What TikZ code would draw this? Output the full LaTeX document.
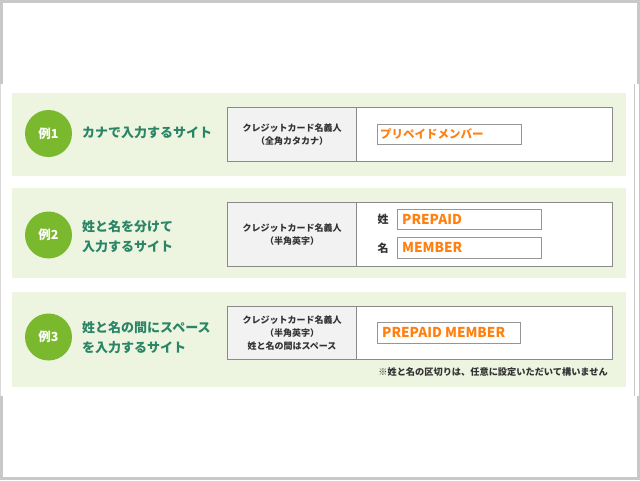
\documentclass[tikz,border=0pt]{standalone}
\usepackage{fontspec}
\setmainfont{Noto Sans CJK JP}
\definecolor{framegray}{HTML}{C8C8C8}
\definecolor{panelgreen}{HTML}{EDF5E1}
\definecolor{circlegreen}{HTML}{7AB82E}
\definecolor{titlegreen}{HTML}{2A8466}
\definecolor{boxborder}{HTML}{8A8A8A}
\definecolor{labelfill}{HTML}{F2F2F2}
\definecolor{valorange}{HTML}{FF7F0F}
\definecolor{txtdark}{HTML}{333333}
\tikzset{
  panel/.style={fill=panelgreen, draw=none, anchor=north west, inner sep=0pt},
  badge/.style={circle, fill=circlegreen, minimum size=47pt, inner sep=0pt,
    text=white, font=\bfseries\fontsize{12.5}{12.5}\selectfont},
  title/.style={anchor=west, text=titlegreen, align=left, inner sep=0pt,
    font=\bfseries\fontsize{13}{20}\selectfont},
  lbox/.style={draw=boxborder, line width=1pt, fill=labelfill, anchor=north west,
    inner sep=0pt, align=center, text=txtdark,
    font=\bfseries\fontsize{9}{13.3}\selectfont},
  vbox/.style={draw=boxborder, line width=1pt, fill=white, anchor=north west, inner sep=0pt},
  ibox/.style={draw=boxborder!90, line width=1.2pt, fill=white, anchor=north west,
    inner sep=0pt},
  ival/.style={anchor=west, inner sep=0pt, text=valorange,
    font=\bfseries\fontsize{13.6}{13.6}\selectfont},
  jlab/.style={anchor=center, inner sep=0pt, text=txtdark,
    font=\bfseries\fontsize{11}{11}\selectfont},
  note/.style={anchor=east, inner sep=0pt, text=txtdark,
    font=\bfseries\fontsize{9.2}{9.2}\selectfont}
}
\begin{document}
\begin{tikzpicture}[x=1pt,y=-1pt]
% frame
\fill[framegray] (0,0) rectangle (640,480);
\fill[white] (3,3) rectangle (637,477);
\useasboundingbox (0,0) rectangle (640,480);
\fill[white] (1,84) rectangle (639,396);
\draw[framegray, line width=0.8pt] (634,84) -- (634,396);
\draw[framegray!70, line width=0.6pt] (0.5,84) -- (0.5,396);

% ---------- panel 1 ----------
\node[panel, minimum width=614pt, minimum height=83pt] (p1) at (12,93) {};
\node[badge] (b1) at (48.5,133.5) {例1};
\node[title] (t1) at (82,133) {カナで入力するサイト};
\node[lbox, minimum width=129pt, minimum height=54pt] (l1) at (227,107)
  {クレジットカード名義人\\（全角カタカナ）};
\node[vbox, minimum width=256pt, minimum height=54pt] (v1) at (356,107) {};
\node[ibox, minimum width=144pt, minimum height=20pt] (i1) at (377,124) {};
\node[ival, font=\bfseries\fontsize{11.5}{11.5}\selectfont] (iv1) at (380,134) {プリペイドメンバー};

% ---------- panel 2 ----------
\node[panel, minimum width=614pt, minimum height=90pt] (p2) at (12,188) {};
\node[badge] (b2) at (48.5,235) {例2};
\node[title] (t2) at (82,237) {姓と名を分けて\\入力するサイト};
\node[lbox, minimum width=129pt, minimum height=64pt] (l2) at (227,202)
  {クレジットカード名義人\\（半角英字）};
\node[vbox, minimum width=256pt, minimum height=64pt] (v2) at (356,202) {};
\node[jlab] (s2) at (383,219) {姓};
\node[ibox, minimum width=144pt, minimum height=20pt] (i2a) at (397,209) {};
\node[ival] (iv2a) at (402,219) {PREPAID};
\node[jlab] (n2) at (383,248) {名};
\node[ibox, minimum width=144pt, minimum height=21pt] (i2b) at (397,237) {};
\node[ival] (iv2b) at (402,247.5) {MEMBER};

% ---------- panel 3 ----------
\node[panel, minimum width=614pt, minimum height=95pt] (p3) at (12,292) {};
\node[badge] (b3) at (48.5,337) {例3};
\node[title] (t3) at (82,338) {姓と名の間にスペース\\を入力するサイト};
\node[lbox, minimum width=129pt, minimum height=53pt] (l3) at (227,306)
  {クレジットカード名義人\\（半角英字）\\姓と名の間はスペース};
\node[vbox, minimum width=256pt, minimum height=53pt] (v3) at (356,306) {};
\node[ibox, minimum width=143pt, minimum height=21pt] (i3) at (377,322) {};
\node[ival] (iv3) at (382,332.5) {PREPAID MEMBER};
\node[note] (nt3) at (608,372) {※姓と名の区切りは、任意に設定いただいて構いません};
\end{tikzpicture}
\end{document}
